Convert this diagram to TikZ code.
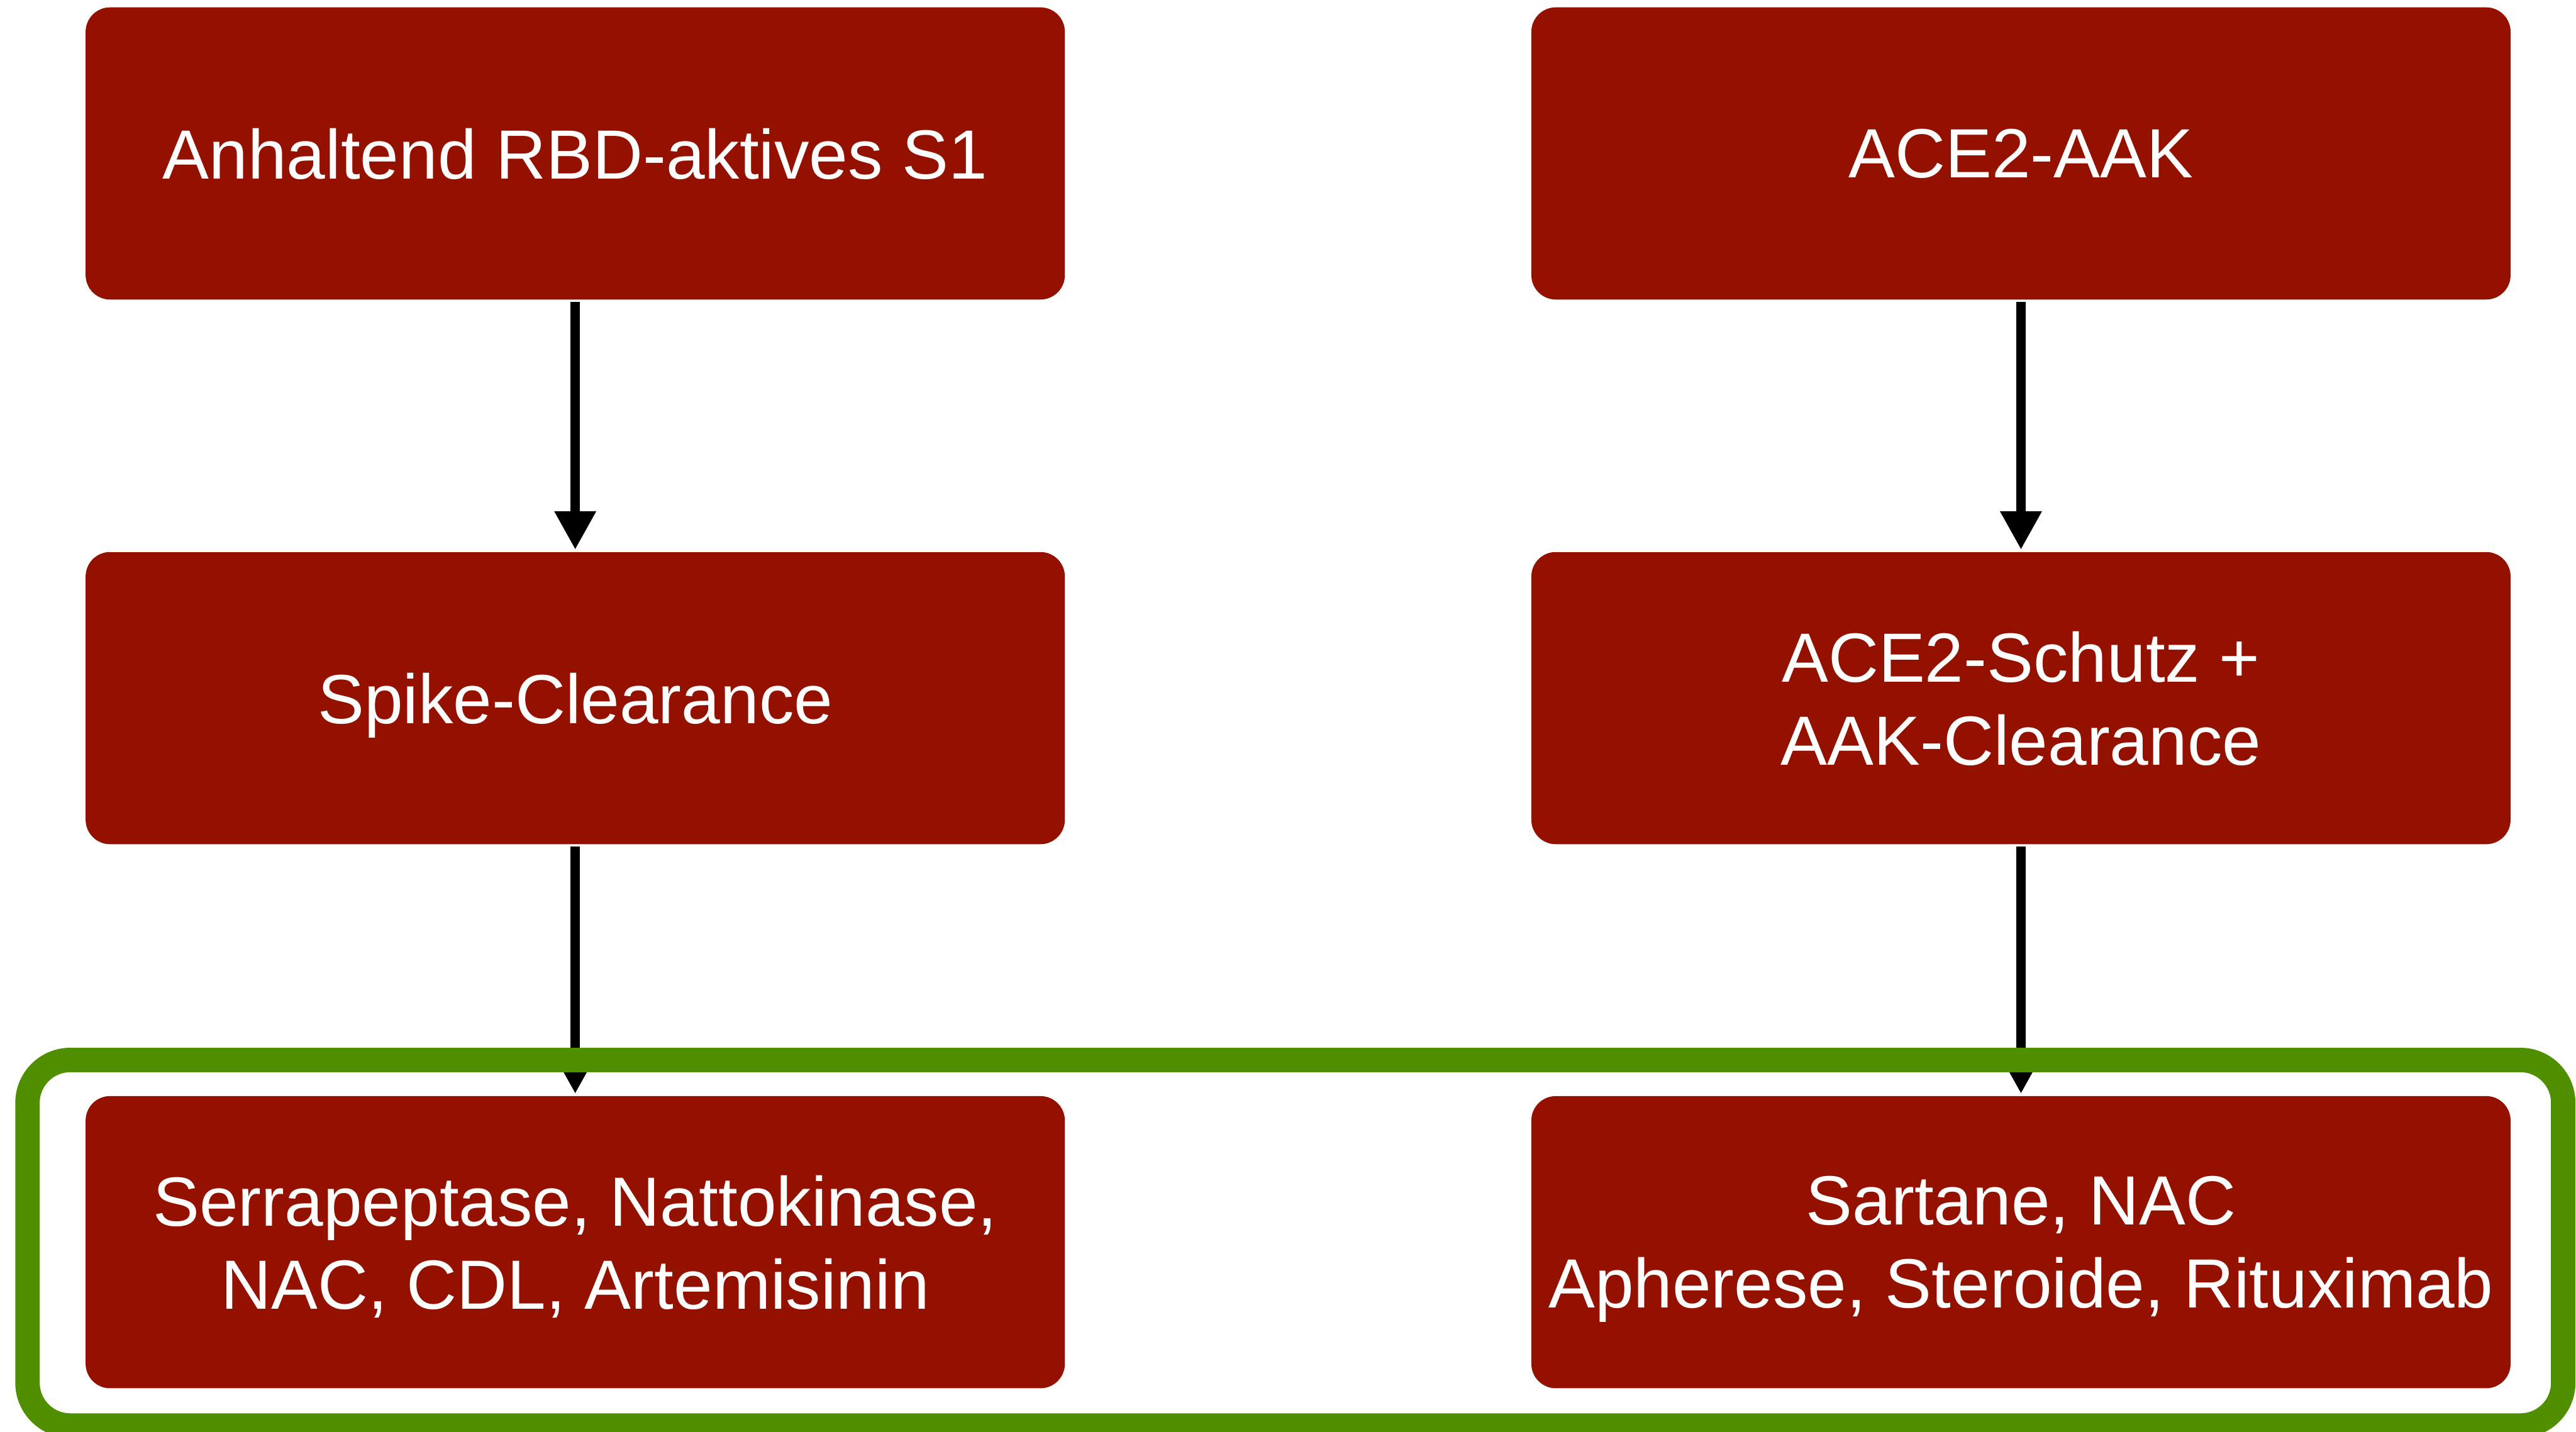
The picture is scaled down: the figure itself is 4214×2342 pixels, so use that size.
\documentclass[tikz,border=0pt]{standalone}
\usepackage{fontspec}
\setmainfont{Liberation Sans}
\usetikzlibrary{arrows.meta}
\definecolor{cayenne}{RGB}{148,17,0}
\definecolor{clover}{RGB}{79,143,0}
\tikzset{every picture/.style={line width=0.75pt}}
\tikzset{redbox/.style={fill=cayenne, rounded corners=4pt, minimum width=160.2pt, minimum height=47.8pt, inner sep=0pt, text depth=0pt, text=white, align=center, font=\fontsize{11.4}{13.6}\selectfont},
flowarrow/.style={line width=1.6pt, -{Triangle[width=6.4pt,length=6.3pt]}}}

\begin{document}
\begin{tikzpicture}[x=0.1pt,y=0.1pt,yscale=-1,xscale=1]
\useasboundingbox (0,0) rectangle (4214,2342);

% Left column
\node [redbox] (s1) at (941,251) {Anhaltend RBD-aktives S1};
\node [redbox] (spike) at (941,1142) {Spike-Clearance};
\node [redbox] (enzyme) at (941,2032) {Serrapeptase, Nattokinase,\\NAC, CDL, Artemisinin};
% Right column
\node [redbox] (aak) at (3306,251) {ACE2-AAK};
\node [redbox] (schutz) at (3306,1142) {ACE2-Schutz +\\AAK-Clearance};
\node [redbox] (sartane) at (3306,2032) {Sartane, NAC\\Apherese, Steroide, Rituximab};

% Arrows
\draw [flowarrow] (s1) -- (spike);
\draw [flowarrow] (spike) -- (enzyme);
\draw [flowarrow] (aak) -- (schutz);
\draw [flowarrow] (schutz) -- (sartane);

% Green frame round the bottom row
\draw [clover, line width=4pt, rounded corners=7pt] (45,1734) rectangle (4193,2332);

\end{tikzpicture}
\end{document}
